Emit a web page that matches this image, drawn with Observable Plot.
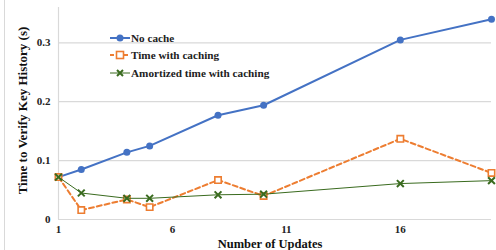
<!DOCTYPE html>
<html>
<head>
<meta charset="utf-8">
<script src="https://cdn.jsdelivr.net/npm/d3@7"></script>
<script src="https://cdn.jsdelivr.net/npm/@observablehq/plot@0.6"></script>
<style>
  body { margin: 0; background: #fff; }
  #wrap { position: relative; width: 496px; height: 250px; overflow: hidden; }
  #border { position: absolute; left: 4px; top: 0; width: 0; height: 250px; border-left: 1px solid #d9d9d9; }
  #legend { position: absolute; left: 110px; top: 29px; font-family: "Liberation Serif", serif; font-size: 11.2px; font-weight: bold; color: #222; }
  #legend .row { display: flex; align-items: center; height: 17.5px; }
  #legend svg { margin-right: 1px; }
</style>
</head>
<body>
<div id="wrap"><div id="border"></div><div id="legend"></div></div>
<script>
const updates = [1, 2, 4, 5, 8, 10, 16, 20];
const noCache = [0.072, 0.085, 0.114, 0.125, 0.177, 0.194, 0.305, 0.340];
const withCaching = [0.072, 0.016, 0.034, 0.021, 0.067, 0.040, 0.137, 0.079];
const amortized = [0.072, 0.045, 0.036, 0.036, 0.042, 0.043, 0.061, 0.066];
const seriesNames = ["No cache", "Time with caching", "Amortized time with caching"];
const xTicks = [1, 6, 11, 16];
const yTicks = [0, 0.1, 0.2, 0.3];
const yTickLabels = ["0", "0.1", "0.2", "0.3"];
const xTitle = "Number of Updates";
const yTitle = "Time to Verify Key History (s)";

const blue = "#4472C4", orange = "#ED7D31", green = "#3A6B1F";
const mk = vals => updates.map((x, i) => ({x, y: vals[i]}));
const dBlue = mk(noCache), dOrange = mk(withCaching), dGreen = mk(amortized);

const font = "'Liberation Serif', serif";
const plot = Plot.plot({
  width: 496,
  height: 250,
  marginLeft: 58,
  marginRight: 5,
  marginTop: 7,
  marginBottom: 31,
  style: {fontFamily: font, fontSize: "11px", fontWeight: "bold", color: "#222", background: "transparent"},
  x: {domain: [1, 20], ticks: xTicks, tickSize: 0, tickPadding: 5, label: null, tickFormat: d => String(d)},
  y: {domain: [0, 0.36], ticks: yTicks, tickSize: 0, tickPadding: 8, label: null,
      tickFormat: d => yTickLabels[yTicks.indexOf(d)]},
  marks: [
    Plot.ruleY(yTicks, {stroke: "#d9d9d9", strokeWidth: 1.2}),
    Plot.ruleX([1], {stroke: "#d9d9d9", strokeWidth: 1.2}),
    Plot.line(dBlue, {x: "x", y: "y", stroke: blue, strokeWidth: 2}),
    Plot.dot(dBlue, {x: "x", y: "y", fill: blue, r: 3.5, symbol: "circle"}),
    Plot.line(dOrange, {x: "x", y: "y", stroke: orange, strokeWidth: 2, strokeDasharray: "5,3"}),
    Plot.dot(dOrange, {x: "x", y: "y", fill: "white", stroke: orange, strokeWidth: 1.6, r: 3.6, symbol: "square"}),
    Plot.line(dGreen, {x: "x", y: "y", stroke: green, strokeWidth: 1}),
    Plot.dot(dGreen, {x: "x", y: "y", stroke: green, strokeWidth: 2, r: 3.2, symbol: "times"}),
    Plot.axisX({ticks: xTicks, tickSize: 0, tickPadding: 6, label: null, fontSize: 11}),
    Plot.axisY({ticks: yTicks, tickSize: 0, tickPadding: 8, label: null, fontSize: 11,
      tickFormat: d => yTickLabels[yTicks.indexOf(d)]}),
    Plot.text([xTitle], {frameAnchor: "bottom", dy: 28, fontSize: 12.5, fontWeight: "bold", fill: "#111", lineAnchor: "bottom", dx: -5}),
    Plot.text([yTitle], {frameAnchor: "left", textAnchor: "middle", dx: -36, dy: -3, rotate: -90, fontSize: 13, fontWeight: "bold", fill: "#111"})
  ]
});
document.getElementById("wrap").appendChild(plot);
plot.style.position = "absolute";
plot.style.left = "0";
plot.style.top = "0";

const legend = document.getElementById("legend");
const sym = [
  `<line x1="0" y1="6" x2="20" y2="6" stroke="${blue}" stroke-width="2"/><circle cx="10" cy="6" r="3.5" fill="${blue}"/>`,
  `<line x1="0" y1="6" x2="20" y2="6" stroke="${orange}" stroke-width="2" stroke-dasharray="4,3"/><rect x="6.5" y="2.5" width="7" height="7" fill="white" stroke="${orange}" stroke-width="1.6"/>`,
  `<line x1="0" y1="6" x2="20" y2="6" stroke="${green}" stroke-width="1"/><path d="M7,3L13,9M13,3L7,9" stroke="${green}" stroke-width="2"/>`
];
seriesNames.forEach((name, i) => {
  const row = document.createElement("div");
  row.className = "row";
  row.innerHTML = `<svg width="20" height="12">${sym[i]}</svg><span>${name}</span>`;
  legend.appendChild(row);
});
</script>
</body>
</html>
